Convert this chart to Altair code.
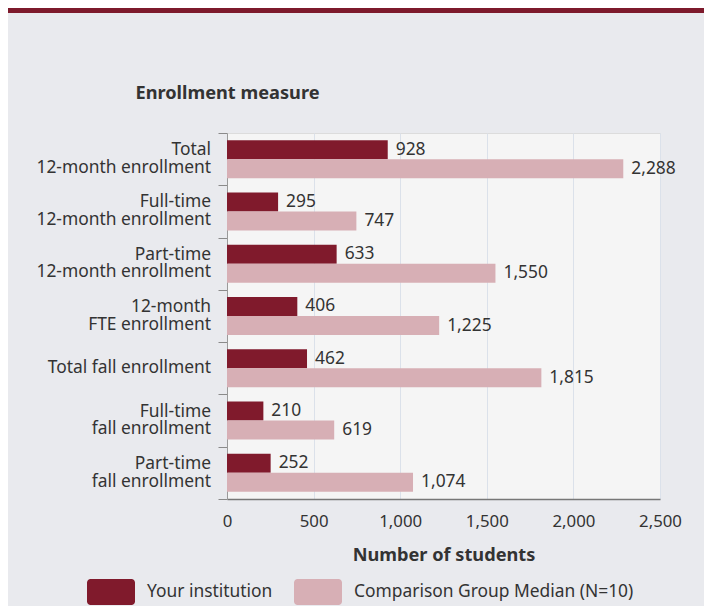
import altair as alt
import pandas as pd

measures = [
    "Total|12-month enrollment",
    "Full-time\u00a0|12-month enrollment",
    "Part-time\u00a0|12-month enrollment",
    "12-month|FTE enrollment",
    "Total fall enrollment",
    "Full-time\u00a0|fall enrollment",
    "Part-time\u00a0|fall enrollment",
]
your_institution = [928, 295, 633, 406, 462, 210, 252]
comparison_median = [2288, 747, 1550, 1225, 1815, 619, 1074]
groups = ["Your institution", "Comparison Group Median (N=10)"]
x_ticks = [0, 500, 1000, 1500, 2000, 2500]
colors = ["#801a2c", "#d7afb5"]

rows = []
for m, a, b in zip(measures, your_institution, comparison_median):
    rows.append({"measure": m, "group": groups[0], "value": a})
    rows.append({"measure": m, "group": groups[1], "value": b})
df = pd.DataFrame(rows)
cat_df = pd.DataFrame({"measure": measures})

FONT = "Noto Sans"
TXT = "#333333"
FS = 17.4

swatch = ("M-0.85,-0.54 H0.85 A0.15,0.15 0 0 1 1,-0.39 V0.39 A0.15,0.15 0 0 1 0.85,0.54 "
          "H-0.85 A0.15,0.15 0 0 1 -1,0.39 V-0.39 A0.15,0.15 0 0 1 -0.85,-0.54 Z")

y_enc = alt.Y(
    "measure:N",
    sort=measures,
    scale=alt.Scale(paddingInner=0, paddingOuter=0),
    axis=alt.Axis(
        title="Enrollment measure", labels=False,
        tickBand="extent", ticks=True, tickSize=9,
        tickColor="#8a8a8a", domainColor="#9a9a9a", grid=False,
        titleAngle=0, titleX=0, titleY=-40, titleAlign="center", titleBaseline="middle",
        titleFont=FONT, titleFontSize=18.2, titleFontWeight="bold", titleColor=TXT,
    ),
)
yoff_enc = alt.YOffset("group:N", sort=groups, scale=alt.Scale(paddingOuter=0.375, paddingInner=0))
x_enc = alt.X(
    "value:Q",
    scale=alt.Scale(domain=[0, 2500], nice=False),
    axis=alt.Axis(
        values=x_ticks, format=",.0f", ticks=False, labelPadding=14, labelFlush=False,
        labelFont=FONT, labelFontSize=16.8, labelColor=TXT,
        gridColor="#dbe1ea", domainColor="#777777", domainWidth=1.5,
        title="Number of students", titleFont=FONT, titleFontSize=18.2,
        titleFontWeight="bold", titleColor=TXT, titleY=56, titleBaseline="middle",
    ),
)

bars = alt.Chart(df).mark_bar().encode(
    x=x_enc,
    y=y_enc,
    yOffset=yoff_enc,
    color=alt.Color(
        "group:N", sort=groups,
        scale=alt.Scale(domain=groups, range=colors),
        legend=alt.Legend(
            title=None, orient="none", legendX=-140, legendY=435,
            direction="horizontal", symbolType=swatch, symbolSize=2304,
            symbolStrokeWidth=0, symbolOpacity=1, labelFont=FONT,
            labelFontSize=FS, labelColor=TXT, columnPadding=21,
            labelOffset=12, padding=0, labelLimit=500,
        ),
    ),
)

value_labels = alt.Chart(df).mark_text(
    align="left", baseline="middle", dx=8, font=FONT, fontSize=FS, color=TXT
).encode(
    x="value:Q",
    y=alt.Y("measure:N", sort=measures),
    yOffset=alt.YOffset("group:N", sort=groups),
    text=alt.Text("value:Q", format=","),
)

cat_two = alt.Chart(cat_df).transform_filter(
    "indexof(datum.measure, '|') >= 0"
).mark_text(
    align="right", baseline="middle", dy=-9, lineBreak="|", lineHeight=17.7,
    font=FONT, fontSize=FS, color=TXT
).encode(
    x=alt.value(-16),
    y=alt.Y("measure:N", sort=measures),
    text="measure:N",
)

cat_one = alt.Chart(cat_df).transform_filter(
    "indexof(datum.measure, '|') < 0"
).mark_text(
    align="right", baseline="middle", font=FONT, fontSize=FS, color=TXT
).encode(
    x=alt.value(-16),
    y=alt.Y("measure:N", sort=measures),
    text="measure:N",
)

topbar = alt.Chart(alt.Data(values=[{}])).mark_rect(color="#7d1a2c").encode(
    x=alt.value(-221), x2=alt.value(477), y=alt.value(-125), y2=alt.value(-120)
)

chart = (
    alt.layer(bars, value_labels, cat_two, cat_one, topbar)
    .properties(
        width=433, height=366,
        autosize=alt.AutoSizeParams(type="none"),
        padding={"left": 219, "top": 125, "right": 44, "bottom": 107},
    )
    .configure(background="#e9eaee")
    .configure_view(fill="#f5f5f5", stroke="#dcdcdc")
)

chart.save("out.html", embed_options={"renderer": "svg", "actions": False})
